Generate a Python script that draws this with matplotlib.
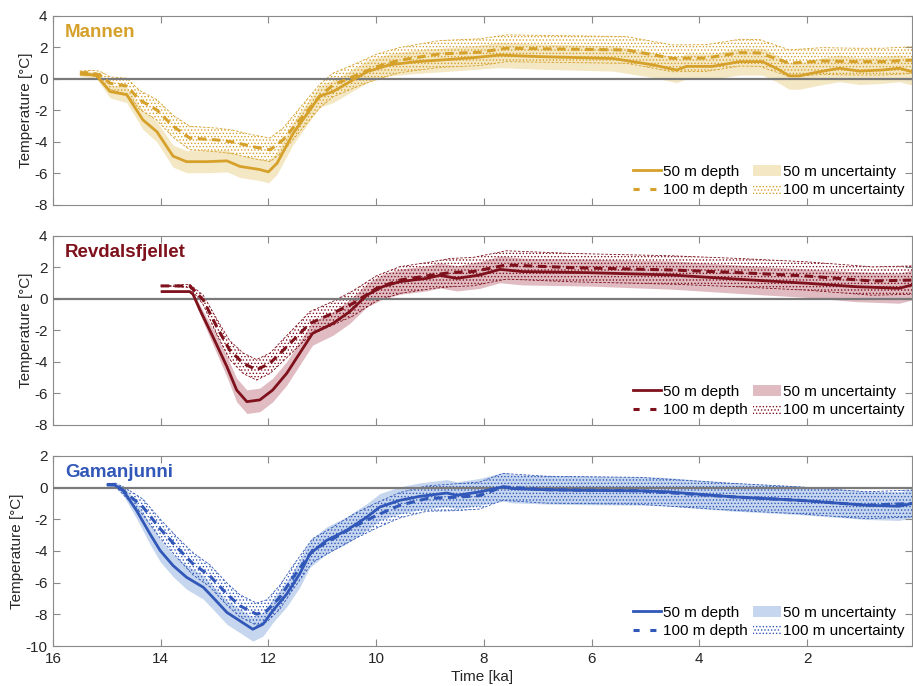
import numpy as np
import matplotlib
matplotlib.use("Agg")
import matplotlib.pyplot as plt
from matplotlib.lines import Line2D
from matplotlib.patches import Patch

plt.rcParams['font.family'] = ['Liberation Sans', 'DejaVu Sans']
plt.rcParams['hatch.linewidth'] = 0.6
plt.rcParams['axes.unicode_minus'] = False

# Mannen
man_t50 = [15.5, 15.2, 14.94, 14.63, 14.33, 14.07, 13.77, 13.52, 13.14, 12.77, 12.53, 12.16, 12.0,
           11.84, 11.54, 11.05, 10.8, 10.43, 10.17, 9.75, 9.25, 8.82, 8.2, 7.7, 6.96, 5.6, 4.87, 4.42,
           4.24, 3.76, 3.25, 2.83, 2.57, 2.33, 2.14, 1.77, 1.4, 1.03, 0.6, 0.29, 0.05]
man_v50 = [0.3, 0.25, -0.8, -1.0, -2.6, -3.35, -4.9, -5.25, -5.25, -5.2, -5.55, -5.75, -5.9,
           -5.35, -3.45, -1.1, -0.8, -0.06, 0.46, 0.9, 1.1, 1.2, 1.35, 1.52, 1.42, 1.3, 0.9, 0.57,
           0.8, 0.8, 1.1, 1.1, 0.68, 0.2, 0.2, 0.46, 0.68, 0.5, 0.57, 0.68, 0.46]
man_u50 = [0.15, 0.2, 0.4, 0.5, 0.6, 0.65, 0.7, 0.7, 0.7, 0.7, 0.7, 0.7, 0.7,
           0.7, 0.7, 0.7, 0.7, 0.7, 0.7, 0.7, 0.75, 0.75, 0.75, 0.8, 0.8, 0.8, 0.8, 0.8,
           0.8, 0.8, 0.85, 0.85, 0.85, 0.85, 0.85, 0.85, 0.85, 0.85, 0.85, 0.85, 0.85]
man_t100 = [15.5, 15.3, 15.13, 14.94, 14.63, 14.39, 14.07, 13.77, 13.46, 12.96, 12.66, 12.29, 11.97,
            11.73, 11.42, 11.05, 10.8, 10.36, 9.99, 9.56, 8.82, 8.08, 7.58, 6.35, 5.35, 4.5, 3.87,
            3.25, 2.88, 2.33, 1.71, 1.09, 0.6, 0.05]
man_v100 = [0.4, 0.4, 0.25, -0.27, -0.45, -1.33, -1.97, -3.0, -3.75, -3.87, -4.0, -4.3, -4.5,
            -3.87, -2.6, -1.1, -0.38, 0.25, 0.78, 1.2, 1.59, 1.7, 1.95, 1.89, 1.84, 1.31, 1.33,
            1.67, 1.65, 1.0, 1.14, 1.1, 1.1, 1.2]
man_u100 = [0.1, 0.15, 0.25, 0.4, 0.5, 0.6, 0.65, 0.7, 0.75, 0.75, 0.75, 0.75, 0.75,
            0.75, 0.75, 0.75, 0.75, 0.75, 0.8, 0.8, 0.85, 0.85, 0.85, 0.85, 0.85, 0.85, 0.85,
            0.85, 0.85, 0.85, 0.85, 0.85, 0.85, 0.85]

# Revdalsfjellet
rev_t50 = [14.0, 13.46, 13.4, 13.27, 13.03, 12.77, 12.59, 12.4, 12.16, 11.92, 11.66, 11.42, 11.18,
           10.8, 10.49, 10.17, 9.88, 9.56, 9.06, 8.82, 8.5, 8.08, 7.7, 7.28, 6.04, 4.5, 3.25, 2.01,
           1.09, 0.29, 0.05]
rev_v50 = [0.47, 0.47, 0.3, -0.7, -2.4, -4.3, -5.78, -6.52, -6.41, -5.78, -4.72, -3.45, -2.18,
           -1.55, -0.8, 0.25, 0.78, 1.1, 1.31, 1.5, 1.31, 1.52, 1.88, 1.74, 1.67, 1.52, 1.25, 1.0,
           0.78, 0.68, 0.89]
rev_u50 = [0.0, 0.0, 0.1, 0.3, 0.5, 0.65, 0.75, 0.75, 0.75, 0.75, 0.75, 0.75, 0.75,
           0.75, 0.75, 0.75, 0.8, 0.8, 0.8, 0.8, 0.8, 0.85, 0.85, 0.85, 0.85, 0.9, 0.9, 0.9,
           0.95, 0.95, 0.95]
rev_t100 = [14.0, 13.46, 13.21, 12.96, 12.72, 12.47, 12.22, 11.97, 11.66, 11.23, 10.8, 10.43, 9.99,
            9.56, 8.95, 8.63, 8.2, 7.58, 6.35, 4.5, 3.25, 2.01, 0.79, 0.05]
rev_v100 = [0.83, 0.83, -0.06, -1.76, -3.24, -4.08, -4.5, -4.08, -3.03, -1.55, -0.9, -0.28, 0.68,
            1.2, 1.52, 1.67, 1.74, 2.16, 1.99, 1.84, 1.67, 1.46, 1.14, 1.2]
rev_u100 = [0.0, 0.1, 0.3, 0.5, 0.6, 0.65, 0.65, 0.65, 0.7, 0.75, 0.75, 0.8, 0.8,
            0.85, 0.85, 0.9, 0.9, 0.9, 0.9, 0.9, 0.9, 0.9, 0.9, 0.9]

# Gamanjunni
gam_t50 = [15.0, 14.85, 14.7, 14.45, 14.2, 14.01, 13.77, 13.52, 13.21, 13.03, 12.77, 12.53, 12.29,
           12.1, 11.92, 11.66, 11.42, 11.23, 10.92, 10.55, 10.17, 9.93, 9.56, 9.19, 8.69, 8.5, 8.08,
           7.65, 7.47, 6.84, 6.22, 5.11, 4.61, 3.38, 2.14, 0.9, 0.29, 0.05]
gam_v50 = [0.16, 0.16, -0.16, -1.43, -2.91, -3.97, -4.92, -5.66, -6.29, -6.93, -7.88, -8.41, -8.94,
           -8.62, -7.78, -6.72, -5.45, -4.18, -3.33, -2.7, -1.85, -1.22, -0.8, -0.55, -0.34, -0.48, -0.27,
           0.05, -0.06, -0.13, -0.17, -0.2, -0.26, -0.58, -0.8, -1.11, -1.17, -1.0]
gam_u50 = [0.0, 0.1, 0.3, 0.5, 0.65, 0.7, 0.7, 0.75, 0.75, 0.75, 0.75, 0.75, 0.75,
           0.75, 0.75, 0.8, 0.85, 0.85, 0.85, 0.85, 0.85, 0.85, 0.85, 0.85, 0.85, 0.85, 0.85,
           0.9, 0.9, 0.9, 0.9, 0.9, 0.9, 0.9, 0.9, 0.9, 0.9, 0.9]
gam_t100 = [15.0, 14.85, 14.63, 14.33, 14.01, 13.7, 13.4, 13.09, 12.77, 12.53, 12.22, 12.03, 11.79,
            11.54, 11.18, 10.8, 10.43, 9.99, 9.56, 9.06, 8.5, 8.08, 7.65, 6.84, 5.11, 3.38, 2.14,
            0.9, 0.05]
gam_v100 = [0.2, 0.2, -0.37, -1.22, -2.59, -3.76, -4.81, -5.56, -6.72, -7.46, -7.99, -7.78, -6.93,
            -5.66, -3.97, -3.23, -2.49, -1.75, -1.11, -0.69, -0.6, -0.5, 0.05, -0.13, -0.2, -0.58, -0.8,
            -1.11, -1.0]
gam_u100 = [0.0, 0.1, 0.3, 0.5, 0.6, 0.65, 0.7, 0.7, 0.7, 0.7, 0.7, 0.7, 0.75,
            0.75, 0.75, 0.75, 0.8, 0.8, 0.8, 0.8, 0.85, 0.85, 0.85, 0.85, 0.85, 0.85, 0.85,
            0.85, 0.85]

sites = ["Mannen", "Revdalsfjellet", "Gamanjunni"]
colors = ["#D6A12B", "#7E111C", "#3157B8"]
shades = ["#F4E7C3", "#E0BCC2", "#C5D6EE"]
ylims = [(-8, 4), (-8, 4), (-10, 2)]
data = [(man_t50, man_v50, man_u50, man_t100, man_v100, man_u100),
        (rev_t50, rev_v50, rev_u50, rev_t100, rev_v100, rev_u100),
        (gam_t50, gam_v50, gam_u50, gam_t100, gam_v100, gam_u100)]

bottoms = [0.7012, 0.3805, 0.0583]
heights = [0.2755, 0.2755, 0.277]
grey = "#8a8a8a"

fig = plt.figure(figsize=(9.13, 6.86), dpi=100)

for i in range(3):
    ax = fig.add_axes([0.058, bottoms[i], 0.941, heights[i]])
    t50, v50, u50, t100, v100, u100 = [np.array(a) for a in data[i]]
    c = colors[i]

    # uncertainty bands
    ax.fill_between(t50, v50 - u50, v50 + u50, color=shades[i], lw=0, zorder=1)
    ax.fill_between(t100, v100 - u100, v100 + u100, facecolor='none', edgecolor=c,
                    hatch='.....', lw=0, zorder=2)
    ax.plot(t100, v100 - u100, color=c, lw=0.6, ls=(0, (3, 2)), zorder=2)
    ax.plot(t100, v100 + u100, color=c, lw=0.6, ls=(0, (3, 2)), zorder=2)

    ax.axhline(0, color='#7a7a7a', lw=1.6, zorder=3)
    ax.plot(t50, v50, color=c, lw=2.0, zorder=4, solid_capstyle='butt')
    ax.plot(t100, v100, color=c, lw=2.2, dashes=(2.8, 1.8), zorder=4)

    ax.text(0.014, 0.915, sites[i], transform=ax.transAxes, color=c, fontsize=13.5,
            fontweight='bold', va='center', ha='left')

    ax.set_xlim(16, 0.05)
    ax.set_ylim(ylims[i])
    ax.set_xticks(np.arange(16, 1, -2))
    ax.set_yticks(np.arange(ylims[i][0], ylims[i][1] + 1, 2))
    ax.tick_params(direction='in', top=True, right=True, length=5, width=0.8,
                   color=grey, labelsize=11, labelcolor='#262626', pad=4)
    for s in ax.spines.values():
        s.set_color(grey)
        s.set_linewidth(0.8)
    if i < 2:
        ax.set_xticklabels([])
    else:
        ax.set_xlabel("Time [ka]", fontsize=11, color='#262626', labelpad=3)
    ax.set_ylabel("Temperature [°C]", fontsize=11, color='#262626', labelpad=1)

    handles = [Line2D([], [], color=c, lw=2.0),
               Line2D([], [], color=c, lw=2.2, dashes=(2.0, 3.5)),
               Patch(facecolor=shades[i], edgecolor='none'),
               Patch(facecolor='none', edgecolor=c, hatch='.....', lw=0)]
    labels = ["50 m depth", "100 m depth", "50 m uncertainty", "100 m uncertainty"]
    ax.legend(handles, labels, ncol=2, loc='lower right', frameon=False, fontsize=11,
              handlelength=1.8, handletextpad=0.15, columnspacing=0.35, labelspacing=0.3,
              borderaxespad=0.1, bbox_to_anchor=(1.0, 0.0))

fig.savefig("out.png", dpi=100)
